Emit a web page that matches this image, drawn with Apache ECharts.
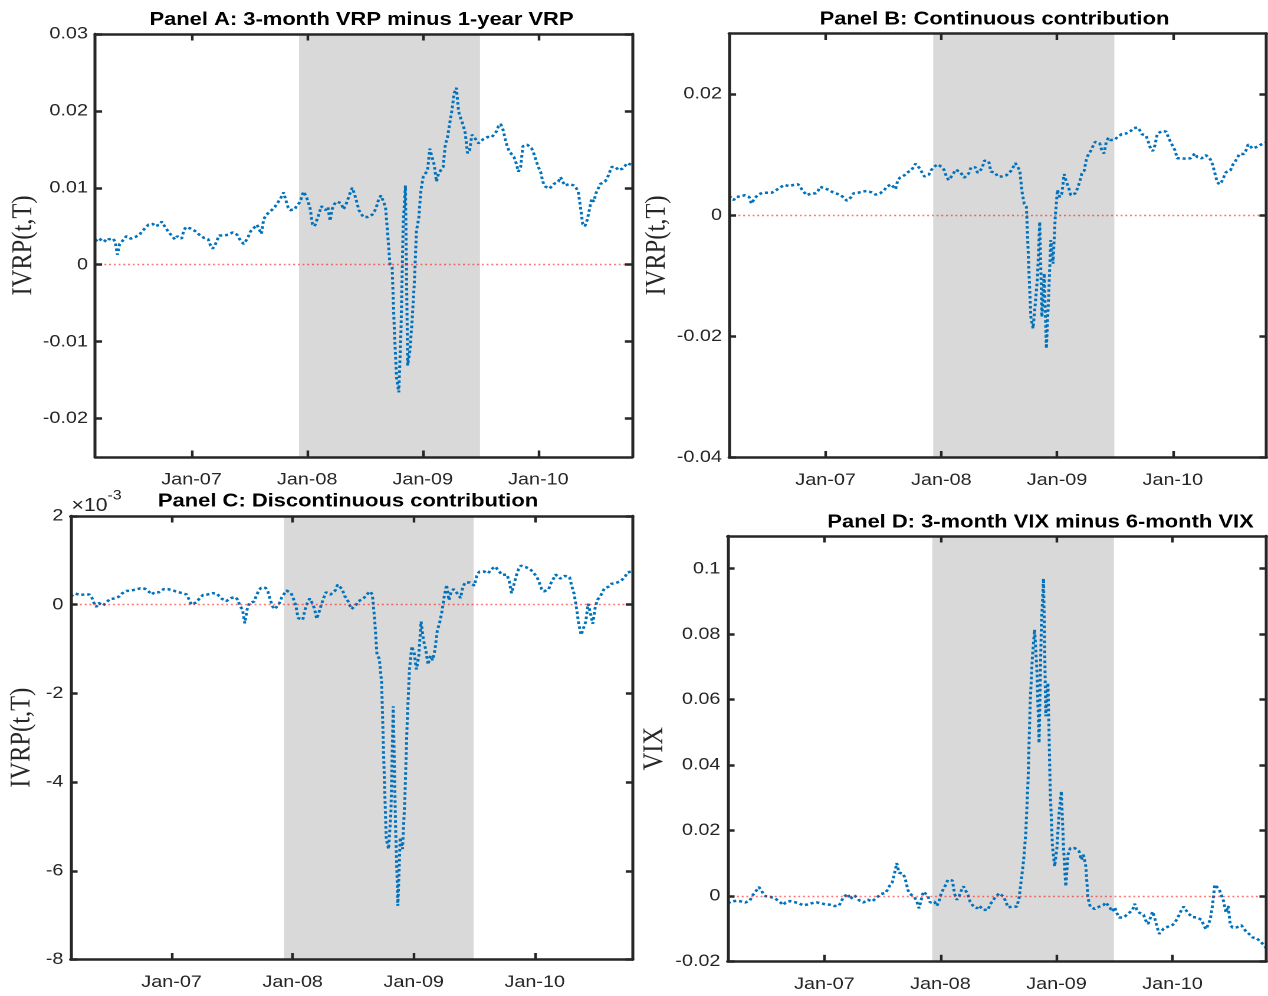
<!DOCTYPE html>
<html>
<head>
<meta charset="utf-8">
<script src="https://cdn.jsdelivr.net/npm/echarts@6/dist/echarts.min.js"></script>
<style>
html,body{margin:0;padding:0;background:#fff;overflow:hidden;}
#wrap{width:1268px;height:996px;overflow:hidden;position:relative;background:#fff;}
#chart{width:1075px;height:996px;transform:scaleX(1.1795349);transform-origin:0 0;}
</style>
</head>
<body>
<div id="wrap"><div id="chart"></div></div>
<script>
// ---------------- DATA ----------------
// Weekly observations, first week (decimal year) and step
const startYear = 2006.167;
const weekStep = 7 / 365.25;
// NBER recession shading (decimal years)
const recession = [2007.93, 2009.495];
// x-axis ticks
const xTickValues = [2007, 2008, 2009, 2010];
const xTickLabels = ['Jan-07', 'Jan-08', 'Jan-09', 'Jan-10'];

// Panel A: 3-month VRP minus 1-year VRP
const panelA = [
0.0033,0.0030,0.0028,0.0034,0.0032,0.0030,0.0033,0.0034,0.0034,0.0030,
0.0013,0.0027,0.0030,0.0032,0.0037,0.0035,0.0034,0.0036,0.0036,0.0037,
0.0039,0.0043,0.0046,0.0049,0.0052,0.0053,0.0053,0.0050,0.0050,0.0052,
0.0056,0.0057,0.0047,0.0043,0.0042,0.0036,0.0033,0.0037,0.0038,0.0034,
0.0045,0.0049,0.0051,0.0047,0.0046,0.0044,0.0042,0.0039,0.0037,0.0035,
0.0035,0.0033,0.0025,0.0021,0.0025,0.0032,0.0038,0.0038,0.0038,0.0037,
0.0039,0.0040,0.0042,0.0040,0.0039,0.0034,0.0030,0.0027,0.0031,0.0036,
0.0043,0.0046,0.0049,0.0052,0.0053,0.0040,0.0059,0.0064,0.0067,0.0069,
0.0072,0.0075,0.0079,0.0080,0.0088,0.0094,0.0084,0.0075,0.0071,0.0069,
0.0072,0.0077,0.0080,0.0086,0.0095,0.0090,0.0083,0.0073,0.0053,0.0050,
0.0049,0.0066,0.0076,0.0075,0.0071,0.0075,0.0057,0.0073,0.0079,0.0082,
0.0083,0.0080,0.0072,0.0077,0.0085,0.0093,0.0100,0.0092,0.0082,0.0071,
0.0071,0.0062,0.0062,0.0062,0.0063,0.0065,0.0069,0.0076,0.0086,0.0090,
0.0088,0.0075,0.0040,0.0001,-0.0003,-0.0086,-0.0147,-0.0166,-0.0086,0.0053,
0.0103,-0.0131,-0.0112,-0.0073,-0.0025,0.0045,0.0060,0.0097,0.0114,0.0112,
0.0123,0.0151,0.0140,0.0130,0.0108,0.0119,0.0121,0.0127,0.0156,0.0166,
0.0184,0.0201,0.0223,0.0230,0.0199,0.0190,0.0182,0.0171,0.0145,0.0149,
0.0169,0.0166,0.0162,0.0158,0.0160,0.0163,0.0164,0.0166,0.0167,0.0166,
0.0164,0.0173,0.0180,0.0183,0.0176,0.0164,0.0153,0.0147,0.0145,0.0140,
0.0132,0.0121,0.0127,0.0154,0.0156,0.0156,0.0158,0.0151,0.0144,0.0135,
0.0127,0.0121,0.0108,0.0102,0.0100,0.0099,0.0102,0.0105,0.0104,0.0108,
0.0114,0.0108,0.0103,0.0101,0.0105,0.0107,0.0103,0.0100,0.0095,0.0075,
0.0053,0.0050,0.0058,0.0071,0.0086,0.0082,0.0093,0.0099,0.0105,0.0107,
0.0108,0.0112,0.0119,0.0127,0.0128,0.0127,0.0123,0.0122,0.0125,0.0128,
0.0132,0.0134,0.0130
];

// Panel B: Continuous contribution
const panelB = [
0.0032,0.0029,0.0025,0.0030,0.0032,0.0031,0.0031,0.0033,0.0035,0.0030,
0.0019,0.0025,0.0030,0.0034,0.0036,0.0037,0.0035,0.0037,0.0038,0.0037,
0.0039,0.0041,0.0044,0.0046,0.0048,0.0050,0.0051,0.0048,0.0047,0.0050,
0.0050,0.0051,0.0047,0.0041,0.0037,0.0033,0.0030,0.0036,0.0034,0.0036,
0.0040,0.0047,0.0048,0.0044,0.0043,0.0042,0.0040,0.0037,0.0036,0.0035,
0.0034,0.0031,0.0028,0.0024,0.0027,0.0030,0.0036,0.0038,0.0037,0.0037,
0.0039,0.0040,0.0040,0.0040,0.0038,0.0036,0.0034,0.0032,0.0036,0.0039,
0.0042,0.0047,0.0050,0.0051,0.0052,0.0043,0.0058,0.0062,0.0064,0.0066,
0.0070,0.0072,0.0074,0.0079,0.0085,0.0083,0.0077,0.0070,0.0064,0.0063,
0.0067,0.0074,0.0079,0.0082,0.0084,0.0083,0.0079,0.0074,0.0063,0.0058,
0.0055,0.0068,0.0075,0.0075,0.0072,0.0072,0.0062,0.0059,0.0069,0.0079,
0.0082,0.0079,0.0070,0.0072,0.0077,0.0090,0.0092,0.0089,0.0072,0.0070,
0.0070,0.0064,0.0063,0.0064,0.0065,0.0066,0.0069,0.0073,0.0079,0.0086,
0.0085,0.0074,0.0039,0.0019,0.0014,-0.0080,-0.0168,-0.0187,-0.0146,-0.0102,
-0.0011,-0.0168,-0.0096,-0.0220,-0.0135,-0.0041,-0.0080,-0.0003,0.0042,0.0030,
0.0036,0.0068,0.0055,0.0046,0.0033,0.0034,0.0036,0.0044,0.0055,0.0069,
0.0073,0.0091,0.0101,0.0106,0.0114,0.0121,0.0121,0.0119,0.0107,0.0102,
0.0121,0.0128,0.0124,0.0123,0.0125,0.0129,0.0132,0.0134,0.0135,0.0135,
0.0136,0.0139,0.0143,0.0145,0.0145,0.0141,0.0134,0.0131,0.0131,0.0121,
0.0110,0.0106,0.0116,0.0134,0.0137,0.0139,0.0138,0.0138,0.0129,0.0121,
0.0114,0.0107,0.0094,0.0094,0.0094,0.0093,0.0093,0.0093,0.0094,0.0098,
0.0102,0.0096,0.0094,0.0094,0.0096,0.0099,0.0096,0.0092,0.0083,0.0069,
0.0055,0.0051,0.0055,0.0063,0.0071,0.0071,0.0074,0.0083,0.0088,0.0094,
0.0101,0.0101,0.0101,0.0107,0.0117,0.0114,0.0110,0.0112,0.0113,0.0116,
0.0117,0.0118,0.0120
];

// Panel C: Discontinuous contribution (in units of 10^-3)
const panelC = [
0.19,0.22,0.25,0.25,0.22,0.20,0.23,0.26,0.23,0.17,
0.04,-0.05,0.04,0.02,-0.02,0.04,0.08,0.13,0.15,0.14,
0.13,0.19,0.25,0.29,0.31,0.32,0.32,0.33,0.34,0.35,
0.37,0.40,0.36,0.32,0.28,0.23,0.28,0.32,0.28,0.24,
0.35,0.35,0.35,0.34,0.32,0.31,0.29,0.28,0.26,0.25,
0.23,0.20,0.00,-0.02,0.05,0.07,0.17,0.22,0.23,0.23,
0.26,0.26,0.26,0.25,0.19,0.14,0.11,0.08,0.11,0.15,
0.18,0.17,0.11,-0.04,-0.10,-0.42,-0.11,0.04,0.00,0.07,
0.20,0.32,0.38,0.42,0.38,0.29,0.11,-0.04,-0.10,-0.11,
0.04,0.17,0.20,0.32,0.34,0.26,0.13,-0.02,-0.30,-0.32,
-0.34,-0.11,0.04,0.14,0.04,-0.08,-0.32,-0.17,0.00,0.15,
0.28,0.27,0.23,0.19,0.32,0.45,0.43,0.35,0.20,0.14,
0.13,-0.10,-0.08,0.00,0.08,0.11,0.13,0.16,0.25,0.30,
0.23,-0.34,-1.13,-1.22,-1.76,-3.64,-5.29,-5.51,-4.69,-2.29,
-4.99,-6.79,-5.25,-5.51,-4.39,-2.66,-1.46,-0.94,-1.09,-1.46,
-1.16,-0.38,-0.79,-1.01,-1.35,-1.15,-1.25,-1.01,-0.58,-0.41,
-0.15,0.20,0.45,0.10,0.30,0.35,0.37,0.23,0.15,0.40,
0.50,0.50,0.50,0.52,0.43,0.65,0.74,0.75,0.75,0.71,
0.71,0.79,0.83,0.86,0.79,0.73,0.67,0.69,0.68,0.53,
0.26,0.45,0.65,0.80,0.88,0.86,0.85,0.83,0.80,0.75,
0.71,0.62,0.49,0.35,0.30,0.26,0.35,0.49,0.58,0.68,
0.68,0.59,0.59,0.65,0.68,0.62,0.41,0.24,-0.08,-0.45,
-0.68,-0.53,-0.38,0.02,-0.19,-0.43,-0.08,0.11,0.17,0.26,
0.37,0.36,0.41,0.47,0.49,0.49,0.49,0.53,0.58,0.64,
0.73,0.74,0.75
];

// Panel D: 3-month VIX minus 6-month VIX
const panelD = [
-0.0022,-0.0020,-0.0017,-0.0016,-0.0015,-0.0016,-0.0017,-0.0017,-0.0020,-0.0024,
-0.0014,0.0000,0.0008,0.0003,0.0027,0.0018,0.0006,-0.0001,-0.0005,-0.0003,
-0.0002,-0.0007,-0.0012,-0.0016,-0.0020,-0.0028,-0.0020,-0.0014,-0.0016,-0.0017,
-0.0019,-0.0021,-0.0023,-0.0027,-0.0029,-0.0028,-0.0026,-0.0024,-0.0022,-0.0021,
-0.0020,-0.0021,-0.0023,-0.0026,-0.0026,-0.0024,-0.0027,-0.0029,-0.0031,-0.0031,
-0.0030,-0.0018,-0.0004,0.0002,0.0006,-0.0010,-0.0004,0.0002,-0.0006,-0.0013,
-0.0017,-0.0020,-0.0016,-0.0012,-0.0016,-0.0017,-0.0011,-0.0005,0.0001,0.0006,
0.0010,0.0009,0.0008,0.0033,0.0041,0.0069,0.0100,0.0071,0.0073,0.0067,
0.0047,0.0018,0.0006,0.0002,-0.0004,-0.0017,-0.0038,-0.0012,0.0013,0.0011,
0.0000,-0.0020,-0.0020,-0.0018,-0.0031,-0.0017,0.0008,0.0013,0.0034,0.0049,
0.0053,0.0047,0.0006,-0.0012,-0.0002,0.0016,0.0029,0.0023,0.0003,-0.0018,
-0.0028,-0.0033,-0.0038,-0.0030,-0.0033,-0.0043,-0.0043,-0.0043,-0.0026,-0.0017,
-0.0007,0.0000,0.0008,0.0012,-0.0002,-0.0017,-0.0035,-0.0036,-0.0033,-0.0036,
-0.0033,-0.0007,0.0049,0.0105,0.0190,0.0345,0.0590,0.0733,0.0814,0.0692,
0.0467,0.0824,0.0970,0.0549,0.0651,0.0324,0.0151,0.0090,0.0146,0.0253,
0.0320,0.0146,0.0029,0.0126,0.0146,0.0151,0.0146,0.0151,0.0136,0.0110,
0.0126,0.0090,-0.0007,-0.0033,-0.0036,-0.0040,-0.0043,-0.0033,-0.0033,-0.0028,
-0.0020,-0.0022,-0.0038,-0.0048,-0.0035,-0.0053,-0.0066,-0.0063,-0.0066,-0.0065,
-0.0055,-0.0053,-0.0043,-0.0024,-0.0043,-0.0051,-0.0055,-0.0058,-0.0076,-0.0086,
-0.0068,-0.0048,-0.0068,-0.0094,-0.0116,-0.0109,-0.0100,-0.0097,-0.0094,-0.0092,
-0.0089,-0.0082,-0.0071,-0.0058,-0.0043,-0.0033,-0.0043,-0.0053,-0.0059,-0.0065,
-0.0068,-0.0066,-0.0063,-0.0073,-0.0089,-0.0102,-0.0089,-0.0071,-0.0028,0.0034,
0.0029,0.0020,0.0016,-0.0017,-0.0051,-0.0031,-0.0089,-0.0097,-0.0099,-0.0096,
-0.0092,-0.0090,-0.0096,-0.0108,-0.0114,-0.0120,-0.0127,-0.0130,-0.0130,-0.0137,
-0.0141,-0.0149,-0.0159
];

// y-axis ticks and labels
const yTicksA = [-0.02, -0.01, 0, 0.01, 0.02, 0.03];
const yLabelsA = ['-0.02', '-0.01', '0', '0.01', '0.02', '0.03'];
const yTicksB = [-0.04, -0.02, 0, 0.02];
const yLabelsB = ['-0.04', '-0.02', '0', '0.02'];
const yTicksC = [-8, -6, -4, -2, 0, 2];
const yLabelsC = ['-8', '-6', '-4', '-2', '0', '2'];
const yTicksD = [-0.02, 0, 0.02, 0.04, 0.06, 0.08, 0.1];
const yLabelsD = ['-0.02', '0', '0.02', '0.04', '0.06', '0.08', '0.1'];

const titles = ['Panel A: 3-month VRP minus 1-year VRP', 'Panel B: Continuous contribution',
                'Panel C: Discontinuous contribution', 'Panel D: 3-month VIX minus 6-month VIX'];
const yNames = ['IVRP(t,T)', 'IVRP(t,T)', 'IVRP(t,T)', 'VIX'];

// ---------------- LAYOUT ----------------
const S = 1268 / 1075;            // horizontal stretch of the figure
const ux = v => v / S;
const xMin = 2006.165, xMax = 2010.81;
const AX = '#262626';
const panels = [
  {data: panelA, yMin: -0.025, yMax: 0.03, ticks: yTicksA, labels: yLabelsA,
   box: [95, 34, 632, 457], titleX: 361.5, titleTop: 10.5, nameGap: 47.5},
  {data: panelB, yMin: -0.04, yMax: 0.03, ticks: yTicksB, labels: yLabelsB,
   box: [729, 33.5, 1266.5, 457.5], titleX: 994.5, titleTop: 10, nameGap: 48.5},
  {data: panelC, yMin: -8, yMax: 2, ticks: yTicksC, labels: yLabelsC,
   box: [70.5, 516, 632.8, 959.5], titleX: 348, titleTop: 492, nameGap: 28.6},
  {data: panelD, yMin: -0.02, yMax: 0.11, ticks: yTicksD, labels: yLabelsD,
   box: [727.5, 536, 1266.5, 961.3], titleX: 1040.5, titleTop: 513, nameGap: 49}
];

const labelFor = (vals, labs) => v => {
  const k = vals.findIndex(t => Math.abs(t - v) < 1e-9);
  return k < 0 ? '' : labs[k];
};
const tickFont = {fontFamily: 'Liberation Sans', fontSize: 16.8, color: AX};

const grid = [], xAxis = [], yAxis = [], series = [], title = [];
panels.forEach((p, k) => {
  const [x0, y0, x1, y1] = p.box;
  grid.push({left: ux(x0), top: y0, width: ux(x1) - ux(x0), height: y1 - y0});
  ['bottom', 'top'].forEach((pos, j) => {
    xAxis.push({
      type: 'value', gridIndex: k, min: xMin, max: xMax, position: pos, z: 10,
      axisLine: {show: true, onZero: false, lineStyle: {color: AX, width: 2.5}},
      axisTick: {show: true, inside: true, length: 6.5, customValues: xTickValues,
                 lineStyle: {color: AX, width: 2.2}},
      axisLabel: {show: j === 0, customValues: xTickValues, margin: 14.5,
                  formatter: labelFor(xTickValues, xTickLabels), ...tickFont},
      splitLine: {show: false}
    });
  });
  ['left', 'right'].forEach((pos, j) => {
    const ax = {
      type: 'value', gridIndex: k, min: p.yMin, max: p.yMax, position: pos, z: 10,
      axisLine: {show: true, onZero: false, lineStyle: {color: AX, width: 2.5}},
      axisTick: {show: true, inside: true, length: 6, customValues: p.ticks,
                 lineStyle: {color: AX, width: 2.5}},
      axisLabel: {show: j === 0, customValues: p.ticks, margin: 6,
                  formatter: labelFor(p.ticks, p.labels), ...tickFont},
      splitLine: {show: false}
    };
    if (j === 0) {
      ax.name = yNames[k];
      ax.nameLocation = 'middle';
      ax.nameRotate = 90;
      ax.nameGap = p.nameGap;
      ax.nameTextStyle = {fontFamily: 'Liberation Serif', fontSize: 24.5, color: AX};
    }
    yAxis.push(ax);
  });
  series.push({
    type: 'line', xAxisIndex: 2 * k, yAxisIndex: 2 * k, z: 3,
    data: p.data.map((v, i) => [startYear + i * weekStep, v]),
    showSymbol: false, symbol: 'none', emphasis: {disabled: true},
    lineStyle: {color: '#0072BD', width: 2.5, type: [2.6, 2.4]},
    markArea: {silent: true, itemStyle: {color: '#d9d9d9', opacity: 1},
               data: [[{xAxis: recession[0]}, {xAxis: recession[1]}]]},
    markLine: {silent: true, symbol: ['none', 'none'], label: {show: false},
               lineStyle: {color: '#ff0000', width: 1.4, type: [1.6, 2.4], opacity: 0.55},
               emphasis: {disabled: true}, data: [{yAxis: 0}]}
  });
  title.push({
    text: titles[k], left: ux(p.titleX), top: p.titleTop, textAlign: 'center', padding: 0,
    textStyle: {fontFamily: 'Liberation Sans', fontWeight: 'bold', fontSize: 18.6, color: '#000'}
  });
});

const chart = echarts.init(document.getElementById('chart'), null, {devicePixelRatio: 2});
chart.setOption({
  animation: false,
  backgroundColor: '#fff',
  title, grid, xAxis, yAxis, series,
  graphic: [{
    type: 'text', left: ux(71.5), top: 489, z: 20,
    style: {
      text: '{b|×10}{s|-3}',
      rich: {
        b: {fontFamily: 'Liberation Sans', fontSize: 18, fill: AX, verticalAlign: 'bottom', lineHeight: 26},
        s: {fontFamily: 'Liberation Sans', fontSize: 13.5, fill: AX, verticalAlign: 'top', lineHeight: 26}
      }
    }
  }]
});
</script>
</body>
</html>
